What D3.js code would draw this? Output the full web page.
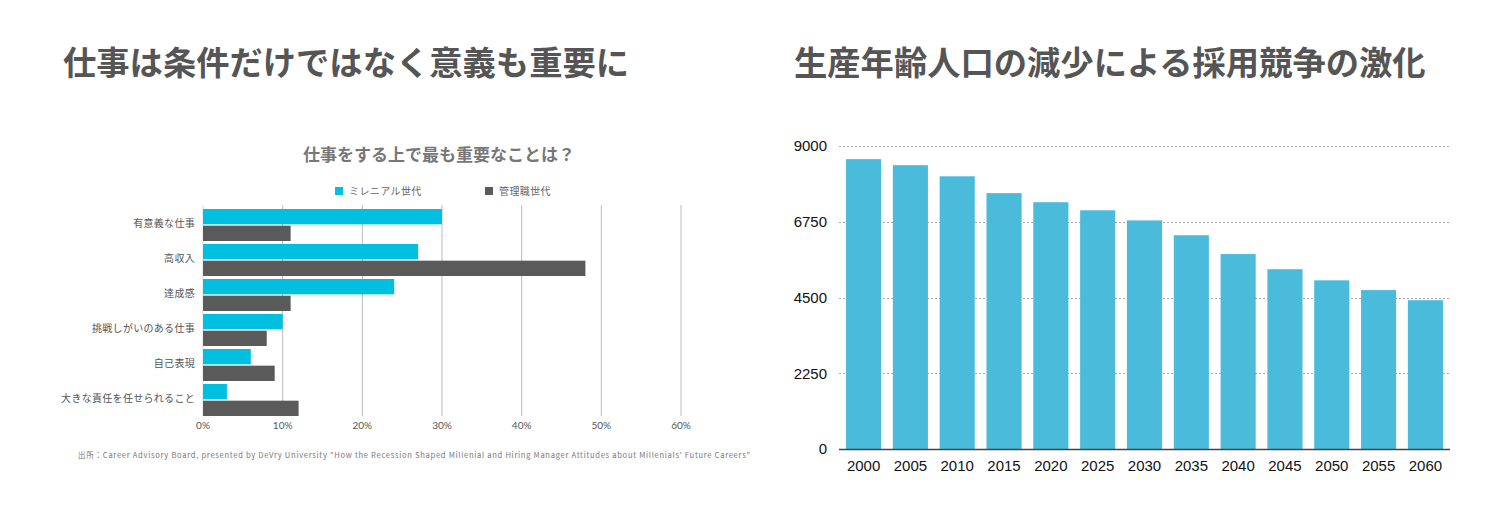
<!DOCTYPE html>
<html><head><meta charset="utf-8">
<script src="https://cdn.jsdelivr.net/npm/d3@7/dist/d3.min.js"></script>
<style>body{margin:0;background:#fff;}svg{display:block;}</style>
</head><body>
<script>
const leftTitle = "仕事は条件だけではなく意義も重要に";
const rightTitle = "生産年齢人口の減少による採用競争の激化";
const surveyTitle = "仕事をする上で最も重要なことは？";
const categories = ["有意義な仕事","高収入","達成感","挑戦しがいのある仕事","自己表現","大きな責任を任せられること"];
const seriesNames = ["ミレニアル世代","管理職世代"];
const millennial = [30,27,24,10,6,3];
const manager = [11,48,11,8,9,12];
const pctTicks = [0,10,20,30,40,50,60];
const sourceNote = "出所：Career Advisory Board, presented by DeVry University \"How the Recession Shaped Millenial and Hiring Manager Attitudes about Millenials' Future Careers\"";
const years = ["2000","2005","2010","2015","2020","2025","2030","2035","2040","2045","2050","2055","2060"];
const population = [8610,8430,8100,7600,7330,7090,6790,6350,5790,5340,5010,4720,4420];
const popTicks = [0,2250,4500,6750,9000];

const W=1501,H=507;
const svg=d3.select("body").append("svg").attr("width",W).attr("height",H);
const JP="'Noto Sans CJK JP','Noto Sans',sans-serif";

svg.append("text").attr("x",63).attr("y",75).attr("font-family",JP).attr("font-weight","bold")
  .attr("font-size",33.3).attr("fill","#555").text(leftTitle);
svg.append("text").attr("x",794).attr("y",75).attr("font-family",JP).attr("font-weight","bold")
  .attr("font-size",33.3).attr("fill","#555").text(rightTitle);

// ---- Left chart
const L=svg.append("g");
L.append("text").attr("x",439).attr("y",161).attr("text-anchor","middle").attr("font-family",JP)
  .attr("font-weight","bold").attr("font-size",17).attr("fill","#777").text(surveyTitle);
const colors=["#00bfe0","#5a5a5a"];
const legX=[335,485];
seriesNames.forEach((n,i)=>{
  L.append("rect").attr("x",legX[i]).attr("y",187).attr("width",8).attr("height",8).attr("fill",colors[i]);
  L.append("text").attr("x",legX[i]+14).attr("y",195).attr("font-family",JP).attr("font-size",10)
    .attr("fill","#666").attr("letter-spacing",0.4).text(n);
});
const x=d3.scaleLinear().domain([0,60]).range([203,681]);
const yb=d3.scaleBand().domain(categories).range([207,417]).paddingInner(0.0).paddingOuter(0);
L.append("g").selectAll("line").data(pctTicks).join("line")
  .attr("x1",d=>x(d)).attr("x2",d=>x(d)).attr("y1",205).attr("y2",416)
  .attr("stroke",d=>d===0?"#ddd":"#bbb").attr("stroke-width",1);
const sub=d3.scaleBand().domain([0,1]).range([2,yb.bandwidth()-1]).paddingInner(0.08);
const grp=L.append("g").selectAll("g").data(categories).join("g").attr("transform",d=>`translate(0,${yb(d)})`);
[millennial,manager].forEach((arr,si)=>{
  grp.append("rect").attr("x",x(0)).attr("y",sub(si)).attr("height",sub.bandwidth())
    .attr("width",(d,i)=>x(arr[i])-x(0)).attr("fill",colors[si]);
});
L.append("g").selectAll("text").data(categories).join("text")
  .attr("x",195).attr("y",d=>yb(d)+yb.bandwidth()/2-1).attr("dy","0.35em").attr("text-anchor","end")
  .attr("font-family",JP).attr("font-size",10).attr("letter-spacing",0.3).attr("fill","#555").text(d=>d);
L.append("g").selectAll("text").data(pctTicks).join("text")
  .attr("x",d=>x(d)).attr("y",429).attr("text-anchor","middle").attr("font-family","Lato,'Noto Sans',sans-serif")
  .attr("font-size",10).attr("fill","#555").text(d=>d+"%");
L.append("text").attr("x",78).attr("y",458).attr("font-family",JP).attr("font-size",7.6)
  .attr("textLength",672).attr("lengthAdjust","spacing")
  .attr("fill","#777").text(sourceNote);

// ---- Right chart
const R=svg.append("g");
const xb=d3.scaleBand().domain(years).range([839,1450]).paddingInner(0.25).paddingOuter(0.15);
const y=d3.scaleLinear().domain([0,9000]).range([449,146]);
R.append("g").selectAll("line").data(popTicks.filter(d=>d>0)).join("line")
  .attr("x1",839).attr("x2",1450).attr("y1",d=>Math.round(y(d))+0.5).attr("y2",d=>Math.round(y(d))+0.5)
  .attr("stroke","#aaa").attr("stroke-width",1).attr("stroke-dasharray","2,2");
R.append("g").selectAll("rect").data(years).join("rect")
  .attr("x",d=>xb(d)).attr("width",xb.bandwidth())
  .attr("y",(d,i)=>y(population[i])).attr("height",(d,i)=>y(0)-y(population[i])).attr("fill","#4bbbdc");
R.append("line").attr("x1",839).attr("x2",1450).attr("y1",449.5).attr("y2",449.5).attr("stroke","#444").attr("stroke-width",1.5);
R.append("g").selectAll("text").data(popTicks).join("text")
  .attr("x",827).attr("y",d=>y(d)).attr("dy","0.35em").attr("text-anchor","end")
  .attr("font-family","'Liberation Sans',Arial,sans-serif").attr("font-size",15).attr("fill","#111").text(d=>d);
R.append("g").selectAll("text").data(years).join("text")
  .attr("x",d=>xb(d)+xb.bandwidth()/2).attr("y",471).attr("text-anchor","middle")
  .attr("font-family","'Liberation Sans',Arial,sans-serif").attr("font-size",15).attr("fill","#111").text(d=>d);
</script>
</body></html>
